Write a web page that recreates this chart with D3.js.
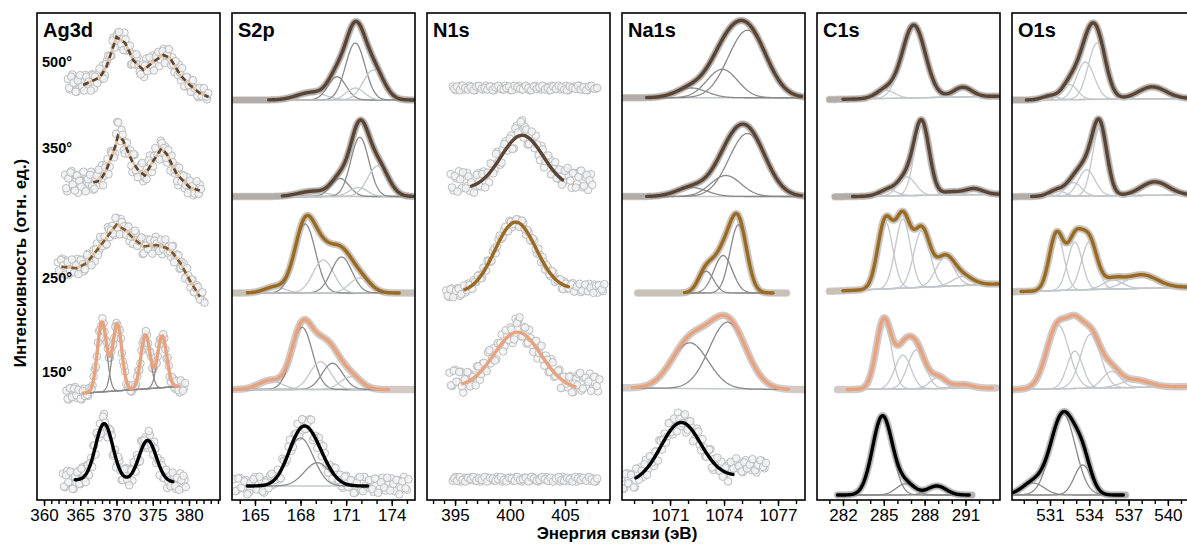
<!DOCTYPE html>
<html>
<head>
<meta charset="utf-8">
<script src="https://cdn.jsdelivr.net/npm/d3@7"></script>
<style>
  body { margin: 0; background: #fff; }
  svg { display: block; }
  text { font-family: "Liberation Sans", Arial, sans-serif; fill: #000; }
</style>
</head>
<body>
<svg id="chart" width="1187" height="546"></svg>
<script>
// ---------- panels, rows and axes ----------
const panelNames = ["Ag3d", "S2p", "N1s", "Na1s", "C1s", "O1s"];
const rowLabels = ["500°", "350°", "250°", "150°", ""];
const energyDomains = [[359.03, 384.28], [163.49, 175.53], [392.45, 409.09], [1068.33, 1078.5], [280.09, 293.54], [528.1, 542.07]];
const tickLabels = [[360, 365, 370, 375, 380], [165, 168, 171, 174], [395, 400, 405], [1071, 1074, 1077], [282, 285, 288, 291], [531, 534, 537, 540]];
const yTitle = "Интенсивность (отн. ед.)";
const xTitle = "Энергия связи (эВ)";

// Fitted components: [centre eV, FWHM eV, height, tone (1 = dark, 0 = light)]
// Backgrounds: linear [start, end] over the fitted range. Intensities are relative per row.
// Scatter: deviation of each measured point from the fit / trace, in hundredths;
// the second sweep is offset by half a step.

// ---------- Ag3d ----------
const ag3dTrace = [
  [[365.4,0.20],[367.7,0.30],[368.6,0.44],[370.0,0.84],[371.2,0.76],[372.3,0.53],[373.7,0.40],[375.1,0.51],[376.5,0.60],[377.4,0.56],[378.8,0.33],[380.1,0.20],[381.5,0.09],[382.7,0.04]],
  [[366.8,0.19],[367.7,0.21],[368.6,0.35],[369.8,0.66],[370.2,0.81],[370.9,0.75],[372.1,0.48],[373.0,0.35],[373.9,0.28],[375.1,0.48],[376.2,0.64],[376.9,0.57],[378.3,0.30],[380.1,0.12],[381.5,0.08]],
  [[362.4,0.35],[364.5,0.33],[365.9,0.40],[367.7,0.62],[370.0,0.91],[371.2,0.84],[372.3,0.73],[373.7,0.62],[375.5,0.64],[376.9,0.60],[377.8,0.53],[378.8,0.40],[380.1,0.17],[381.5,-0.05]],
  null, null
];
const ag3dPeaks = [null, null, null,
  [[368.0,1.5,0.93,1],[370.1,1.5,0.89,1],[374.0,1.5,0.72,1],[376.3,1.5,0.69,1]],
  [[368.3,2.8,0.76,1],[374.3,2.8,0.55,1]]
];
const ag3dBackground = [null, null, null, [-0.05, 0.04], [0.08, 0.05]];
const ag3dFitRange = [null, null, null, [365.4, 378.6], [364.3, 377.8]];
const ag3dScanRange = [[363.3, 382.6], [362.9, 381.5], [361.9, 382.0], [363.1, 379.3], [362.6, 379.4]];
const ag3dScanStep = 0.3;
const ag3dScatter = [
  [8,-6,14,2,-9,10,4,-3,12,-7,5,9,-11,3,7,-4,10,-8,6,2,-5,11,-2,7,-9,4,13,-6,1,-12,8,-3,10,-7,5,-10,12,0,-6,9,-4,7,-11,3,8,-5,10,-2,6,-9,4,11,-6,2,-8,7,-3,9,-5,3,-7,6,-2,4,-4],
  [10,-12,6,15,-4,9,-14,3,12,-8,7,-2,14,-10,5,11,-6,16,-3,8,-13,10,2,-9,22,-5,12,-11,6,-2,9,-14,13,-6,4,11,-9,7,-3,15,-12,5,9,-7,12,-4,8,-10,3,11,-6,9,-13,4,7,-8,10,-3,6,-9,5,-4,8],
  [6,-8,11,-3,9,-10,4,7,-5,12,-2,8,-9,5,10,-6,3,-11,9,-4,7,1,-8,12,-5,6,-10,9,-2,11,-7,4,8,-9,3,-6,10,-3,7,-11,5,9,-4,2,-8,11,-5,6,-10,8,-2,4,-7,10,-3,6,-9,5,8,-4,3,-8,7,-5,9,-2,4,-6],
  [5,-7,8,-3,9,-6,4,-8,6,2,-5,3,-2,4,-3,5,-4,2,-3,4,-2,3,-5,2,-3,4,-2,5,-3,2,-4,3,-2,4,-5,2,-3,3,-4,5,-2,3,-4,2,-3,4,-6,3,-5,7,-4,6,-8,5,-3],
  [8,-10,12,-4,9,-12,5,11,-7,14,-3,10,-9,6,12,-11,4,9,-6,13,-8,3,10,-12,7,-2,11,-9,5,12,-6,8,-11,4,10,-7,13,-3,6,-10,9,-5,12,-8,3,11,-6,7,-12,10,-4,8,-9,5,12,-7,4]
];
const ag3dRepeatScatter = [
  [-4,11,3,-9,6,13,-2,-8,9,1,-12,7,4,-6,12,-3,-10,5,8,-1,11,-7,3,9,-5,-11,6,2,10,-8,-4,12,1,-9,7,4,-6,10,-2,-12,5,9,-3,6,-10,2,11,-7,-1,8,-5,3,12,-9,6,-2,-8,10,1,-6,7,-3,9,-1,5],
  [-8,5,13,-3,-11,9,2,-6,14,-12,4,10,-5,-9,8,15,-2,-13,6,11,-7,3,-10,12,18,-4,7,-12,9,1,-8,12,-5,-10,6,14,-3,-9,11,2,-7,13,-1,-11,8,4,-6,10,-12,5,1,-9,12,-4,7,-2,-10,9,3,-6,11,-5,2],
  [-5,9,2,-10,7,-3,11,-6,4,-9,8,1,-7,10,-2,-11,6,3,-8,12,-4,5,-9,7,2,-6,11,-3,-10,8,4,-5,9,-1,-8,12,-6,3,10,-9,1,-4,8,-11,6,2,-7,9,-3,11,-5,-1,8,-10,4,7,-6,2,-9,10,-2,5,-7,3,9,-4,6,-8],
  [-6,8,-4,7,-2,5,-7,3,-4,-3,4,-2,3,-4,2,-3,5,-2,4,-3,3,-4,2,-2,4,-3,3,-5,2,-3,4,-2,3,-4,2,-3,5,-2,3,-4,2,-5,3,-2,4,-3,5,-4,6,-3,7,-5,8,-6,4],
  [-9,6,-3,11,-12,4,10,-6,13,-2,-10,8,3,-11,7,12,-5,-8,10,2,-13,6,9,-4,-11,12,1,-7,10,-3,-12,5,11,-8,2,-10,9,4,-6,13,-1,-9,7,3,-12,8,-4,11,-2,-7,12,-5,6,-10,3,9,-6]
];
const ag3dComponentsDrawn = [false, false, false, true, false];

// ---------- S2p ----------
const s2pPeaks = [
  [[168.7,2.2,0.10,0],[170.4,1.4,0.31,1],[171.6,1.4,0.16,0],[171.6,1.5,0.76,1],[172.8,1.6,0.40,0]],
  [[168.8,2.2,0.07,0],[170.6,1.4,0.24,1],[171.8,1.4,0.12,0],[171.9,1.4,0.79,1],[173.1,1.6,0.41,0]],
  [[166.3,1.6,0.08,0],[168.3,1.6,0.92,1],[169.5,1.6,0.44,0],[170.7,1.6,0.48,1],[171.9,1.6,0.20,0]],
  [[166.0,1.8,0.12,0],[168.1,1.6,0.83,1],[169.3,1.6,0.37,0],[170.1,1.6,0.35,1],[171.3,1.6,0.17,0]],
  [[168.0,2.0,0.64,1],[169.1,2.0,0.31,1]]
];
const s2pBackground = [[0, 0], [0, 0], [0, 0], [0, 0], [0, 0]];
const s2pFitRange = [[165.9, 175.4], [166.8, 175.4], [164.5, 174.5], [163.6, 173.8], [164.5, 172.4]];
const s2pScanRange = [[163.5, 175.5], [163.5, 175.5], [163.6, 175.4], [163.5, 175.5], [163.6, 175.0]];
const s2pScanStep = 0.2;
const s2pScatter = [null, null, null, null,
  [9,-6,11,-3,8,-9,5,12,-4,7,-10,6,10,-5,3,-8,12,-2,9,-7,5,11,-6,8,-3,13,-9,4,10,-6,7,-11,5,9,-4,8,-7,11,-3,6,-9,10,-5,12,-2,7,-8,9,-4,11,-6,5,10,-7,8,-3,12,-5]
];
const s2pRepeatScatter = [null, null, null, null,
  [-7,10,-2,6,-11,4,9,-5,12,-8,3,-6,11,-1,8,-10,5,-3,13,-7,2,-9,10,-4,7,15,-2,-8,6,12,-5,3,-9,11,-1,-6,9,-3,7,-10,4,12,-7,1,8,-4,10,-9,5,-2,11,-6,3,8,-11,6,-3,9]
];
const s2pComponentsDrawn = [true, true, true, true, true];

// ---------- N1s ----------
const n1sPeaks = [null, [[401.1,4.5,0.71,1]], [[400.5,4.4,0.92,1]], [[400.7,5.0,0.75,1]], null];
const n1sBackground = [[0.16, 0.16], [0.10, 0.11], [0.0, 0.05], [0.03, 0.0], [0.09, 0.09]];
const n1sFitRange = [null, [396.5, 404.8], [395.9, 405.3], [395.7, 405.9], null];
const n1sScanRange = [[394.8, 408.0], [394.6, 407.5], [394.2, 408.5], [394.5, 408.0], [394.8, 407.8]];
const n1sScanStep = 0.25;
const n1sScatter = [
  [2,-3,1,3,-2,0,3,-1,-3,2,1,-2,3,-1,2,-3,0,2,-2,3,1,-3,2,-1,3,-2,1,2,-3,0,3,-1,-2,2,1,-3,3,-1,2,-2,0,3,-3,1,2,-1,3,-2,1,-3,2,0,-1],
  [20,-2,14,23,0,11,19,-6,9,-4,13,-7,10,2,-12,8,-5,14,-9,6,11,-3,9,-12,15,6,20,12,-10,7,-2,13,-8,10,-13,5,9,-6,14,-4,11,-2,15,11,-4,17,3,21,0,14,-3,18],
  [4,-5,6,-2,5,-6,3,-4,6,-3,5,-1,4,-5,2,6,-3,4,-6,5,-2,3,-4,6,-5,2,4,-3,5,-6,3,-2,6,-4,2,5,-5,3,-3,6,-2,4,-6,5,-3,2,6,-4,3,-5,4,-2,6,-3,5,-6,3,-4],
  [18,0,21,4,17,-12,6,11,-7,3,12,-10,8,-3,14,-6,9,-11,5,12,-8,2,10,-13,18,15,-5,9,-10,12,-4,6,-12,10,-3,8,-9,13,-6,4,11,-10,7,-5,12,-8,11,18,-3,14,4,21,1,17,-2],
  [-2,3,0,-3,2,1,-1,3,-2,2,-3,1,3,-1,0,-2,3,2,-3,1,-1,2,-2,3,0,-3,2,1,-2,3,-1,-3,2,0,3,-2,1,-1,2,-3,3,0,-2,1,2,-3,3,-1,0,2,-2,1,-3]
];
const n1sRepeatScatter = [
  [-1,2,-3,3,0,-2,1,-3,2,3,-1,0,-2,2,-3,1,3,-1,-2,0,2,-3,3,1,-1,-2,3,0,-3,2,-1,1,3,-2,0,-3,2,-1,3,1,-2,-3,2,0,-1,3,-2,1,-3,2,3,-1,0],
  [2,17,-4,12,21,-1,14,5,-10,12,-5,8,-13,3,11,-7,14,-2,-9,10,-4,7,-11,13,5,18,-3,9,-8,12,-6,4,-12,8,-2,11,-9,3,-5,10,-7,14,20,5,16,-2,13,22,2,17,10,4],
  [-3,5,-6,2,4,-4,6,-2,3,-5,1,5,-3,6,-4,2,-5,4,-1,6,-3,5,-6,3,-2,4,-5,6,-1,3,-4,5,-2,6,-5,2,4,-3,6,-4,1,5,-6,3,-2,4,-5,2,6,-3,5,-4,1,-6,3,4,-2,5],
  [1,20,5,17,-3,5,13,-8,2,-12,10,-4,7,-9,14,-2,-10,8,3,-13,11,-5,6,-9,12,20,-4,10,-7,3,-11,9,-2,13,-8,5,-6,11,-3,8,-12,6,-1,10,-9,4,3,20,0,15,10,-2,17,5,14],
  [1,-2,3,-1,-3,2,0,3,-2,1,-1,3,-3,2,1,-2,0,3,-1,-3,2,1,-2,3,-1,0,2,-3,3,1,-2,-1,3,0,-2,2,-3,1,3,-1,-2,2,0,-3,3,1,-1,2,-2,3,0,-3,1]
];
const n1sComponentsDrawn = [false, false, false, false, false];

// ---------- Na1s ----------
const na1sPeaks = [
  [[1072.2,2.0,0.13,1],[1073.9,2.0,0.38,1],[1075.3,2.5,0.90,1]],
  [[1072.2,2.0,0.12,1],[1074.1,2.0,0.28,1],[1075.3,2.4,0.84,1]],
  [[1073.0,1.0,0.29,1],[1073.95,1.2,0.50,1],[1074.8,1.1,0.91,1]],
  [[1072.1,2.4,0.61,1],[1074.2,2.4,0.89,1]],
  [[1071.6,2.6,0.76,1]]
];
const na1sBackground = [[0.03, 0.03], [0, 0], [0, 0], [0.02, 0], [0.05, 0.13]];
const na1sFitRange = [[1069.7, 1078.3], [1069.7, 1078.3], [1071.8, 1076.7], [1068.9, 1077.6], [1069.1, 1074.5]];
const na1sScanRange = [[1068.3, 1078.5], [1068.3, 1078.5], [1069.2, 1077.5], [1068.3, 1078.5], [1068.3, 1076.3]];
const na1sScanStep = 0.15;
const na1sScatter = [null, null, null, null,
  [6,-9,11,-4,8,-12,5,10,-6,13,-3,9,-10,4,12,-7,8,-2,11,-9,6,14,-5,9,-11,7,3,-8,12,-4,10,-7,5,13,-10,8,-3,11,-6,9,14,6,18,9,15,4,20,11,7,16,3,12,18,8]
];
const na1sRepeatScatter = [null, null, null, null,
  [-8,10,-3,7,-11,12,-5,4,9,-9,11,-2,6,-12,8,3,-7,13,-4,10,-10,5,-1,12,-6,9,-13,4,11,-8,2,-5,10,-9,7,12,-3,-8,6,-11,16,8,22,12,5,17,9,14,21,6,13,19,10,15]
];
const na1sComponentsDrawn = [true, true, true, true, false];

// ---------- C1s ----------
const c1sPeaks = [
  [[285.1,1.6,0.11,0],[287.2,2.0,0.97,0],[290.8,1.6,0.13,0]],
  [[285.3,1.5,0.08,0],[286.7,1.5,0.25,0],[287.8,1.3,0.95,0],[289.9,1.5,0.04,0],[291.6,1.6,0.08,0]],
  [[285.1,1.3,0.90,0],[286.4,1.3,0.92,0],[287.8,1.4,0.76,0],[289.5,1.6,0.38,0],[290.8,1.8,0.12,0]],
  [[285.0,1.3,0.92,0],[286.4,1.4,0.45,0],[287.4,1.5,0.52,0],[289.0,1.4,0.15,0],[290.8,1.6,0.05,0]],
  [[284.9,1.7,1.05,1],[286.6,1.6,0.15,1],[288.9,1.6,0.12,1]]
];
const c1sBackground = [[0.01, 0.05], [0, 0.03], [0.03, 0.12], [0, 0.02], [-0.12, -0.12]];
const c1sFitRange = [[282.0, 293.4], [282.7, 293.4], [282.0, 293.4], [282.3, 293.0], [281.6, 291.3]];
const c1sScanRange = [[281.0, 293.5], [281.4, 293.5], [281.0, 293.5], [281.6, 293.3], [281.6, 291.5]];
const c1sComponentsDrawn = [true, true, true, true, true];

// ---------- O1s ----------
const o1sPeaks = [
  [[531.0,1.4,0.05,0],[532.5,1.4,0.20,0],[533.7,1.6,0.50,0],[534.6,1.6,0.75,0],[538.8,2.5,0.16,0]],
  [[531.5,1.4,0.08,0],[532.8,1.4,0.18,0],[533.8,1.5,0.35,0],[534.8,1.3,0.91,0],[539.0,2.5,0.18,0]],
  [[531.5,1.3,0.76,0],[532.9,1.3,0.64,0],[534.0,1.4,0.64,0],[535.8,1.8,0.12,0],[538.0,2.8,0.18,0]],
  [[531.6,2.0,0.85,0],[532.9,1.4,0.50,0],[534.1,1.8,0.72,0],[535.7,1.6,0.22,0],[537.5,2.5,0.10,0]],
  [[529.7,2.0,0.16,1],[532.0,2.2,1.08,1],[533.5,1.5,0.40,1]]
];
const o1sBackground = [[0, 0.02], [0, 0.02], [0.02, 0.08], [0, 0.04], [-0.12, -0.12]];
const o1sFitRange = [[529.2, 542.0], [529.6, 542.0], [528.8, 542.0], [528.3, 542.0], [528.2, 536.6]];
const o1sScanRange = [[528.1, 542.07], [528.1, 542.07], [528.1, 542.07], [528.1, 542.07], [528.1, 536.8]];
const o1sComponentsDrawn = [true, true, true, true, true];

// ---------- assemble ----------
const panels = [
  { peaks: ag3dPeaks, bg: ag3dBackground, fit: ag3dFitRange, scan: ag3dScanRange, step: ag3dScanStep, scatter: ag3dScatter, repeat: ag3dRepeatScatter, trace: ag3dTrace, drawn: ag3dComponentsDrawn },
  { peaks: s2pPeaks, bg: s2pBackground, fit: s2pFitRange, scan: s2pScanRange, step: s2pScanStep, scatter: s2pScatter, repeat: s2pRepeatScatter, drawn: s2pComponentsDrawn },
  { peaks: n1sPeaks, bg: n1sBackground, fit: n1sFitRange, scan: n1sScanRange, step: n1sScanStep, scatter: n1sScatter, repeat: n1sRepeatScatter, drawn: n1sComponentsDrawn },
  { peaks: na1sPeaks, bg: na1sBackground, fit: na1sFitRange, scan: na1sScanRange, step: na1sScanStep, scatter: na1sScatter, repeat: na1sRepeatScatter, drawn: na1sComponentsDrawn },
  { peaks: c1sPeaks, bg: c1sBackground, fit: c1sFitRange, scan: c1sScanRange, step: 0.1, scatter: [], repeat: [], drawn: c1sComponentsDrawn },
  { peaks: o1sPeaks, bg: o1sBackground, fit: o1sFitRange, scan: o1sScanRange, step: 0.1, scatter: [], repeat: [], drawn: o1sComponentsDrawn }
].map((p, i) => ({ ...p, name: panelNames[i], domain: energyDomains[i], ticks: tickLabels[i] }));

// ---------- layout & style ----------
const PANEL_W = 183, TOP = 13, AXIS_Y = 500, UNIT = 75;
const panelLeft = i => 37 + i * 195;
const rowBase = r => 100 + r * 96.5;
const ROW_COLORS = ["#5a4433", "#5a4433", "#9a6a22", "#e8a27e", "#000000"];
const TONE_COLORS = ["#c3c7cc", "#8a8a8a"];
const TRACE_UNDER = "#e6c29c";
const FONT = '"Liberation Sans", Arial, sans-serif';

const gauss = (e, [c, f, h]) => h * Math.exp(-4 * Math.LN2 * (e - c) * (e - c) / (f * f));
const grid = (a, b, s) => d3.range(a, b + s / 2, s);

const svg = d3.select("#chart");
const defs = svg.append("defs");

panels.forEach((P, i) => {
  const x0 = panelLeft(i);
  const x = d3.scaleLinear().domain(P.domain).range([x0, x0 + PANEL_W]);

  defs.append("clipPath").attr("id", "clip" + i)
    .append("rect").attr("x", x0).attr("y", TOP).attr("width", PANEL_W).attr("height", AXIS_Y - TOP);

  const g = svg.append("g").attr("clip-path", `url(#clip${i})`);

  for (let r = 0; r < 5; r++) {
    const y = d3.scaleLinear().domain([0, 1]).range([rowBase(r), rowBase(r) - UNIT]);
    const line = d3.line().x(d => x(d[0])).y(d => y(d[1])).curve(d3.curveLinear);
    const peaks = P.peaks[r] || [];
    const fit = P.fit[r];
    const bg = d3.scaleLinear().domain(fit || [0, 1]).range(P.bg[r] || [0, 0]);
    const model = e => bg(e) + d3.sum(peaks, pk => gauss(e, pk));
    const [s0, s1] = P.scan[r];
    const dev = P.scatter[r];
    const trace = P.trace && P.trace[r];
    const color = ROW_COLORS[r];
    const row = g.append("g");

    if (dev) {
      // measured points, two sweeps
      const ref = trace
        ? d3.scaleLinear().domain(trace.map(d => d[0])).range(trace.map(d => d[1])).clamp(true)
        : model;
      const sweep = (arr, offset) => (arr || []).map((d, k) => {
        const e = s0 + offset + k * P.step;
        return [e, ref(e) + d / 100];
      });
      const pts = sweep(dev, 0).concat(sweep(P.repeat[r], P.step / 2));
      row.append("g").selectAll("circle").data(pts).join("circle")
        .attr("cx", d => x(d[0])).attr("cy", d => y(d[1])).attr("r", 3.8)
        .attr("fill", "#f2f4f6").attr("fill-opacity", 0.8)
        .attr("stroke", "#bdbdbd").attr("stroke-width", 1);
    } else {
      // densely sampled scan, drawn as a grey band beneath the fit
      const pts = grid(s0, s1, 0.04).map(e => [e, model(e)]);
      row.append("path").attr("d", line(pts)).attr("fill", "none")
        .attr("stroke", "#d0d0d0").attr("stroke-width", 7.5)
        .attr("stroke-linecap", "round").attr("stroke-linejoin", "round");
      row.append("path").attr("d", line(pts)).attr("fill", "none")
        .attr("stroke", color).attr("stroke-opacity", r < 2 ? 0.25 : 0.15).attr("stroke-width", 6)
        .attr("stroke-linecap", "round").attr("stroke-linejoin", "round");
    }

    if (fit && P.drawn[r]) {
      const es = grid(fit[0], fit[1], 0.04);
      row.append("path").attr("d", line(fit.map(e => [e, bg(e)])))
        .attr("fill", "none").attr("stroke", i === 0 ? "#a9b6c4" : TONE_COLORS[0]).attr("stroke-width", 1.3);
      peaks.forEach(pk => {
        row.append("path").attr("d", line(es.map(e => [e, bg(e) + gauss(e, pk)])))
          .attr("fill", "none").attr("stroke", TONE_COLORS[pk[3]]).attr("stroke-width", 1.3);
      });
    }

    if (fit) {
      const es = grid(fit[0], fit[1], 0.04);
      row.append("path").attr("d", line(es.map(e => [e, model(e)])))
        .attr("fill", "none").attr("stroke", color).attr("stroke-width", 3.4)
        .attr("stroke-linecap", "round").attr("stroke-linejoin", "round");
    }

    if (trace) {
      row.append("path").attr("d", line(trace)).attr("fill", "none")
        .attr("stroke", TRACE_UNDER).attr("stroke-width", 2.6);
      row.append("path").attr("d", line(trace)).attr("fill", "none")
        .attr("stroke", r === 2 ? "#7a5a34" : color).attr("stroke-width", 2.6)
        .attr("stroke-dasharray", "6 4");
    }
  }

  // frame
  svg.append("rect").attr("x", x0).attr("y", TOP).attr("width", PANEL_W).attr("height", AXIS_Y - TOP)
    .attr("fill", "none").attr("stroke", "#000").attr("stroke-width", 1.6);

  // minor ticks every 1 eV, labelled major ticks
  const minor = d3.range(Math.ceil(P.domain[0]), Math.floor(P.domain[1]) + 1);
  const axMinor = svg.append("g").attr("transform", `translate(0,${AXIS_Y})`)
    .call(d3.axisBottom(x).tickValues(minor).tickSize(4).tickFormat(""));
  const axMajor = svg.append("g").attr("transform", `translate(0,${AXIS_Y})`)
    .call(d3.axisBottom(x).tickValues(P.ticks).tickSize(6).tickPadding(3).tickFormat(d3.format("d")));
  [axMinor, axMajor].forEach(a => {
    a.select(".domain").remove();
    a.selectAll("line").attr("stroke", "#000").attr("stroke-width", 1.4);
  });
  axMajor.selectAll("text").attr("font-size", 17).attr("fill", "#000").style("font-family", FONT);

  // panel title
  svg.append("text").attr("x", x0 + 6).attr("y", 37)
    .attr("font-size", 20).attr("font-weight", "bold").text(P.name);
});

// temperature labels
const tempY = [67, 153, 283, 377];
rowLabels.forEach((t, r) => {
  if (!t) return;
  svg.append("text").attr("x", 42).attr("y", tempY[r])
    .attr("font-size", 14.5).attr("font-weight", "bold").text(t);
});

// axis titles
svg.append("text").attr("transform", "translate(26,263) rotate(-90)")
  .attr("text-anchor", "middle").attr("font-size", 17).attr("font-weight", "bold").text(yTitle);
svg.append("text").attr("x", 617).attr("y", 539)
  .attr("text-anchor", "middle").attr("font-size", 17).attr("font-weight", "bold").text(xTitle);
</script>
</body>
</html>
